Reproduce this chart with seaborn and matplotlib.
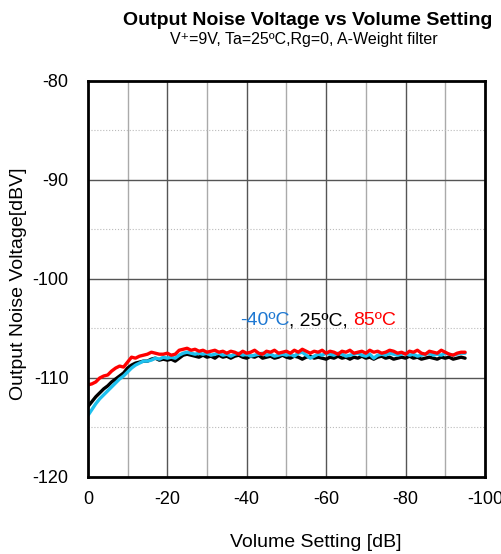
import numpy as np
import pandas as pd
import seaborn as sns
import matplotlib.pyplot as plt

# volume setting steps, 0 .. -95 dB
volume = list(range(0, -96, -1))

noise_85c = [-110.7, -110.6, -110.4, -110.0, -109.8, -109.7, -109.3, -109.0, -108.8, -108.9,
             -108.4, -107.9, -108.0, -107.8, -107.7, -107.6, -107.4, -107.5, -107.6, -107.6,
             -107.5, -107.7, -107.6, -107.2, -107.1, -107.0, -107.2, -107.1, -107.3, -107.2,
             -107.4, -107.3, -107.2, -107.4, -107.3, -107.5, -107.3, -107.4, -107.6, -107.3,
             -107.5, -107.4, -107.2, -107.5, -107.6, -107.3, -107.4, -107.2, -107.5, -107.4,
             -107.3, -107.5, -107.2, -107.4, -107.1, -107.3, -107.5, -107.3, -107.4, -107.2,
             -107.5, -107.3, -107.4, -107.6, -107.3, -107.4, -107.2, -107.5, -107.4, -107.3,
             -107.5, -107.2, -107.4, -107.3, -107.5, -107.4, -107.2, -107.3, -107.5, -107.4,
             -107.6, -107.3, -107.4, -107.2, -107.5, -107.6, -107.3, -107.4, -107.5, -107.2,
             -107.4, -107.6, -107.7, -107.5, -107.4, -107.4]

noise_25c = [-112.9, -112.4, -111.9, -111.5, -111.1, -110.8, -110.4, -110.1, -109.8, -109.5,
             -109.0, -108.7, -108.5, -108.4, -108.3, -108.3, -108.1, -108.0, -108.2, -108.1,
             -108.2, -108.1, -108.3, -108.0, -107.7, -107.6, -107.7, -107.8, -107.9, -107.7,
             -107.9, -107.8, -108.0, -107.7, -107.9, -107.8, -108.0, -107.8, -107.7, -107.9,
             -108.0, -107.8, -107.9, -107.7, -108.0, -107.9, -107.8, -108.0, -107.9, -107.7,
             -107.9, -108.0, -107.8, -107.9, -108.1, -107.9, -107.8, -108.0, -107.9, -108.0,
             -108.1, -107.9, -108.0, -107.8, -108.0, -107.9, -108.1, -107.9, -108.0, -107.8,
             -108.0, -107.9, -108.1, -107.9, -107.8, -108.0, -107.9, -108.1, -108.0, -107.9,
             -108.0, -107.8, -108.0, -107.9, -108.1, -108.0, -107.9, -108.0, -108.1, -107.9,
             -108.0, -107.9, -108.1, -108.0, -107.9, -108.0]

noise_m40c = [-113.8, -113.2, -112.6, -112.1, -111.7, -111.3, -110.9, -110.5, -110.1, -109.8,
              -109.4, -109.0, -108.7, -108.5, -108.3, -108.3, -108.2, -108.0, -108.1, -107.9,
              -108.0, -107.9, -108.0, -107.7, -107.5, -107.4, -107.5, -107.6, -107.5, -107.6,
              -107.5, -107.7, -107.6, -107.5, -107.7, -107.6, -107.8, -107.6, -107.5, -107.7,
              -107.6, -107.8, -107.7, -107.6, -107.5, -107.7, -107.6, -107.8, -107.7, -107.6,
              -107.7, -107.6, -107.8, -107.5, -107.4, -107.7, -108.0, -107.8, -107.6, -107.7,
              -107.5, -107.6, -107.7, -107.5, -107.6, -107.8, -107.7, -107.6, -107.5, -107.7,
              -107.8, -107.6, -108.0, -107.7, -107.6, -107.7, -107.5, -107.6, -107.7, -107.6,
              -107.5, -107.7, -107.6, -107.8, -107.7, -107.6, -107.5, -107.7, -107.6, -107.7,
              -107.5, -107.6, -107.7, -107.6, -107.5, -107.5]

temps = ['25C', '-40C', '85C']
colors = {'25C': 'black', '-40C': '#1ec0ee', '85C': '#ff0000'}

df = pd.concat([
    pd.DataFrame({'volume': volume, 'noise': noise_25c, 'temp': '25C'}),
    pd.DataFrame({'volume': volume, 'noise': noise_m40c, 'temp': '-40C'}),
    pd.DataFrame({'volume': volume, 'noise': noise_85c, 'temp': '85C'}),
])

sns.set_style('white')
plt.rcParams['font.family'] = ['Liberation Sans', 'DejaVu Sans']
plt.rcParams['axes.unicode_minus'] = False
plt.rcParams['text.color'] = 'black'
plt.rcParams['xtick.color'] = 'black'
plt.rcParams['ytick.color'] = 'black'

fig = plt.figure(figsize=(5.02, 5.54), dpi=100)
ax = fig.add_axes([0.175, 0.139, 0.791, 0.715])

# grid lines
for v in range(-10, -100, -10):
    shade = '#555555' if v % 20 == 0 else '#aaaaaa'
    ax.axvline(v, color=shade, lw=1.0, zorder=0)
for v in [-90, -100, -110]:
    ax.axhline(v, color='#555555', lw=1.0, zorder=0)
for v in [-85, -95, -105, -115]:
    ax.axhline(v, color='#bbbbbb', lw=0.8, ls=':', zorder=0)

sns.lineplot(data=df, x='volume', y='noise', hue='temp', hue_order=temps,
             palette=colors, lw=2.4, legend=False, ax=ax, sort=False)

ax.set_xlim(0, -100)
ax.set_ylim(-120, -80)
ax.set_xticks(range(0, -101, -20))
ax.set_yticks(range(-120, -79, 10))
ax.tick_params(direction='in', length=0, labelsize=13, labelcolor='black')
ax.tick_params(axis='x', pad=10)
ax.tick_params(axis='y', pad=14)
for s in ax.spines.values():
    s.set_linewidth(2)
    s.set_color('black')

ax.set_xlabel('')
ax.set_ylabel('')
fig.text(0.628, 0.02, 'Volume Setting [dB]', ha='center', va='center', fontsize=14)
fig.text(0.036, 0.487, 'Output Noise Voltage[dBV]', ha='center', va='center',
         rotation=90, fontsize=14)

fig.text(0.612, 0.963, 'Output Noise Voltage vs Volume Setting', ha='center', va='center',
         fontsize=14, fontweight='bold')
fig.text(0.606, 0.929, 'V\u207a=9V, Ta=25\u00baC,Rg=0, A-Weight filter', ha='center',
         va='center', fontsize=11.5)

t1 = ax.text(-38.3, -104.2, '-40\u00baC', color='#1e78d2', fontsize=14, va='center')
t2 = ax.annotate(', 25\u00baC, ', xy=(1, 0.5), xycoords=t1, va='center',
                 color='black', fontsize=14)
ax.annotate('85\u00baC', xy=(1, 0.5), xycoords=t2, va='center', color='#ff0000', fontsize=14)

fig.savefig('out.png', dpi=100)
